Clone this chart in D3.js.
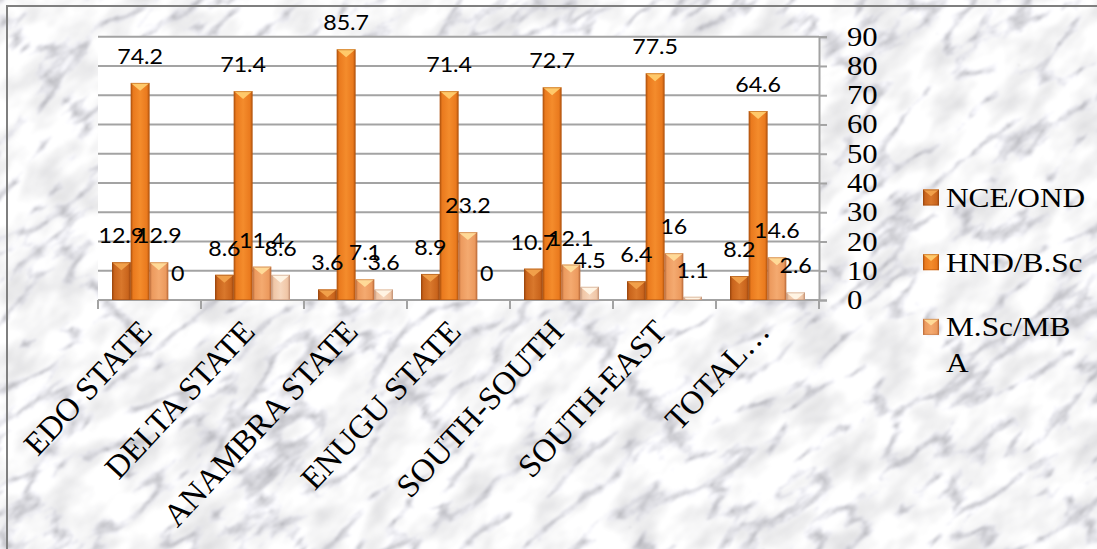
<!DOCTYPE html>
<html>
<head>
<meta charset="utf-8">
<script src="https://cdn.jsdelivr.net/npm/d3@7"></script>
<style>
  html, body { margin: 0; padding: 0; background: #fff; }
  svg { display: block; }
</style>
</head>
<body>
<svg id="chart" width="1097" height="549"></svg>
<script>
// ---- data ----
const categories = ["EDO STATE", "DELTA STATE", "ANAMBRA STATE", "ENUGU STATE", "SOUTH-SOUTH", "SOUTH-EAST", "TOTAL…"];
const seriesNames = ["NCE/OND", "HND/B.Sc", "M.Sc/MBA", "Ph.D"];
const nceOnd = [12.9, 8.6, 3.6, 8.9, 10.7, 6.4, 8.2];
const hndBsc = [74.2, 71.4, 85.7, 71.4, 72.7, 77.5, 64.6];
const mscMba = [12.9, 11.4, 7.1, 23.2, 12.1, 16, 14.6];
const phd    = [0, 8.6, 3.6, 0, 4.5, 1.1, 2.6];
const yTicks = [0, 10, 20, 30, 40, 50, 60, 70, 80, 90];

const seriesValues = [nceOnd, hndBsc, mscMba, phd];

// bar palettes: edge, body, centre highlight, top facet
const palette = [
  { edge: "#9c4810", body: "#c9641c", light: "#d9782c", top: "#f2a24c" },
  { edge: "#b4560e", body: "#ea7a1e", light: "#f48c2c", top: "#ffcc6e" },
  { edge: "#c0703e", body: "#ec9a5e", light: "#f4aa70", top: "#ffdc9a" },
  { edge: "#c4967a", body: "#f0c6a6", light: "#f6d6bc", top: "#fff6e6" }
];

const svg = d3.select("#chart");
const W = 1097, H = 549;
const defs = svg.append("defs");

// marble background texture: soft grey clouds plus thin veins
const marble = defs.append("filter").attr("id", "marble")
  .attr("x", 0).attr("y", 0).attr("width", "100%").attr("height", "100%")
  .attr("color-interpolation-filters", "sRGB");
marble.append("feTurbulence").attr("type", "turbulence")
  .attr("baseFrequency", "0.011 0.03").attr("numOctaves", 5).attr("seed", 4).attr("result", "veins");
marble.append("feColorMatrix").attr("in", "veins").attr("type", "matrix")
  .attr("values", "1.2 0 0 0 0.72  1.2 0 0 0 0.72  1.2 0 0 0 0.74  0 0 0 0 1").attr("result", "v");
marble.append("feTurbulence").attr("type", "fractalNoise")
  .attr("baseFrequency", "0.02 0.035").attr("numOctaves", 3).attr("seed", 9).attr("result", "clouds");
marble.append("feColorMatrix").attr("in", "clouds").attr("type", "matrix")
  .attr("values", "0 0 0 0 0.55  0 0 0 0 0.55  0 0 0 0 0.58  0.6 0 0 0 -0.24").attr("result", "cl");
marble.append("feComposite").attr("in", "cl").attr("in2", "v").attr("operator", "over").attr("result", "m");
marble.append("feGaussianBlur").attr("in", "m").attr("stdDeviation", 0.9);

svg.append("clipPath").attr("id", "pageClip")
  .append("rect").attr("width", W).attr("height", H);

svg.append("rect").attr("width", W).attr("height", H).attr("fill", "#e9e9ec");
svg.append("g").attr("clip-path", "url(#pageClip)")
  .append("g").attr("transform", `translate(${W / 2},${H / 2}) rotate(-38)`)
  .append("rect")
  .attr("x", -900).attr("y", -700).attr("width", 1800).attr("height", 1400)
  .attr("filter", "url(#marble)");

// outer frame
svg.append("rect").attr("x", 7).attr("y", 6).attr("width", W).attr("height", H)
  .attr("fill", "none").attr("stroke", "#7f7f7f").attr("stroke-width", 2);

// bar gradients
palette.forEach((p, i) => {
  const g = defs.append("linearGradient").attr("id", "bar" + i)
    .attr("x1", 0).attr("x2", 1).attr("y1", 0).attr("y2", 0);
  g.append("stop").attr("offset", "0%").attr("stop-color", p.edge);
  g.append("stop").attr("offset", "14%").attr("stop-color", p.body);
  g.append("stop").attr("offset", "50%").attr("stop-color", p.light);
  g.append("stop").attr("offset", "86%").attr("stop-color", p.body);
  g.append("stop").attr("offset", "100%").attr("stop-color", p.edge);
});

// ---- scales ----
const plotLeft = 98, plotRight = 819, plotTop = 36.7, plotBottom = 300;
const x0 = d3.scaleBand().domain(categories).range([plotLeft, plotRight])
  .paddingInner(0.272).paddingOuter(0.136);
const x1 = d3.scaleBand().domain(d3.range(seriesNames.length)).range([0, x0.bandwidth()]);
const y = d3.scaleLinear().domain([0, 90]).range([plotBottom, plotTop]);

const SX = 1.16; // horizontal text stretch
const serif = "'Liberation Serif', 'Times New Roman', serif";

// plot area
svg.append("rect").attr("x", plotLeft).attr("y", plotTop)
  .attr("width", plotRight - plotLeft).attr("height", plotBottom - plotTop).attr("fill", "#fff");

// gridlines
svg.append("g").selectAll("line").data(yTicks.filter(d => d > 0)).join("line")
  .attr("x1", plotLeft).attr("x2", plotRight)
  .attr("y1", d => y(d)).attr("y2", d => y(d))
  .attr("stroke", "#a3a3a3").attr("stroke-width", 2);

// right value axis
const yAxis = svg.append("g").attr("transform", `translate(${plotRight},0)`)
  .call(d3.axisRight(y).tickValues(yTicks).tickSize(8).tickFormat(""));
yAxis.select(".domain").attr("stroke", "#a3a3a3").attr("stroke-width", 2);
yAxis.selectAll(".tick line").attr("stroke", "#a3a3a3").attr("stroke-width", 2);

svg.append("g").selectAll("text").data(yTicks).join("text")
  .attr("transform", d => `translate(847,${y(d)}) scale(${SX},1)`)
  .attr("dy", "0.34em")
  .attr("font-family", serif).attr("font-size", 26.5).attr("fill", "#000")
  .text(d => d);

// category axis
const xAxis = svg.append("g").attr("transform", `translate(0,${plotBottom})`);
xAxis.append("line").attr("x1", plotLeft).attr("x2", plotRight)
  .attr("stroke", "#a3a3a3").attr("stroke-width", 2);
const bounds = categories.map(c => x0(c) - x0.step() * x0.paddingInner() / 2).concat([plotRight]);
xAxis.selectAll("line.tk").data(bounds).join("line").attr("class", "tk")
  .attr("x1", d => d).attr("x2", d => d).attr("y1", 0).attr("y2", 9)
  .attr("stroke", "#a3a3a3").attr("stroke-width", 2);

svg.append("g").selectAll("text").data(categories).join("text")
  .attr("transform", d => `translate(${x0(d) + x0.bandwidth() / 2 + 4},333) rotate(-47)`)
  .attr("text-anchor", "end")
  .attr("font-family", serif).attr("font-size", 32.5).attr("fill", "#000")
  .text(d => d);

// ---- bars ----
function drawBar(g, bx, by, bw, bh, i) {
  const p = palette[i];
  g.append("rect").attr("x", bx).attr("y", by).attr("width", bw).attr("height", bh)
    .attr("fill", `url(#bar${i})`);
  const triH = bw * 0.42;
  const d = Math.min(triH, bh);
  const half = (bw / 2) * (1 - d / triH);
  g.append("polygon")
    .attr("points", [[bx, by], [bx + bw, by], [bx + bw / 2 + half, by + d], [bx + bw / 2 - half, by + d]].join(" "))
    .attr("fill", p.top).attr("opacity", 0.95);
  g.append("rect").attr("x", bx + 0.5).attr("y", by + 0.5).attr("width", Math.max(bw - 1, 0)).attr("height", Math.max(bh - 1, 0))
    .attr("fill", "none").attr("stroke", p.edge).attr("stroke-width", 1).attr("opacity", 0.55);
}

const barsG = svg.append("g");
categories.forEach((c, ci) => {
  seriesValues.forEach((vals, si) => {
    const v = vals[ci];
    const bx = x0(c) + x1(si);
    const by = y(v);
    drawBar(barsG, bx, by, x1.bandwidth(), plotBottom - by, si);
  });
});

// value labels
const labelsG = svg.append("g");
categories.forEach((c, ci) => {
  seriesValues.forEach((vals, si) => {
    const v = vals[ci];
    labelsG.append("text")
      .attr("transform", `translate(${x0(c) + x1(si) + x1.bandwidth() / 2},${y(v) - 19}) scale(1.08,1)`)
      .attr("text-anchor", "middle")
      .attr("font-family", "Lato, 'Open Sans', sans-serif").attr("font-size", 21.5).attr("fill", "#000")
      .text(v);
  });
});

// ---- legend ----
defs.append("clipPath").attr("id", "legendClip")
  .append("rect").attr("x", 900).attr("y", 150).attr("width", 197).attr("height", 228);
const legend = svg.append("g").attr("clip-path", "url(#legendClip)");
const legendTop = 197.5, legendStep = 64.7, lineH = 36, maxW = 143;

function wrapChars(text, fontSize) {
  const probe = svg.append("text").attr("font-family", serif).attr("font-size", fontSize);
  const lines = [];
  let cur = "";
  for (const ch of text) {
    probe.text(cur + ch);
    if (cur && probe.node().getComputedTextLength() * SX > maxW) { lines.push(cur); cur = ch; }
    else cur += ch;
  }
  lines.push(cur);
  probe.remove();
  return lines;
}

let ly = legendTop;
seriesNames.forEach((name, i) => {
  const g = legend.append("g");
  drawBar(g, 923, ly - 8, 16, 16, i);
  const lines = wrapChars(name, 27);
  lines.forEach((ln, k) => {
    g.append("text")
      .attr("transform", `translate(946,${ly + k * lineH}) scale(${SX},1)`)
      .attr("dy", "0.35em")
      .attr("font-family", serif).attr("font-size", 27).attr("fill", "#000")
      .text(ln);
  });
  ly += legendStep + (lines.length - 1) * lineH;
});
</script>
</body>
</html>
